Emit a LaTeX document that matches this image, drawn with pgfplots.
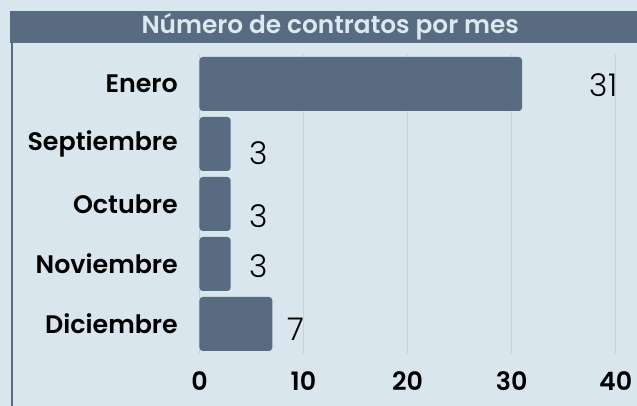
\documentclass[border=0pt]{standalone}
\usepackage{fontspec}
\setmainfont{Poppins}
\newfontfamily\semib{Poppins SemiBold}
\newfontfamily\lightf[Numbers=Monospaced]{Poppins Light}
\usepackage{pgfplots}
\pgfplotsset{compat=1.18}
\definecolor{bg}{HTML}{D9E6EE}
\definecolor{barc}{HTML}{596B80}
\definecolor{gridc}{HTML}{C5D2DA}
\definecolor{titlec}{HTML}{DDE9F0}
\begin{document}
\begin{tikzpicture}
\fill[bg] (0,0) rectangle (477.75pt,304.5pt);
\fill[barc] (7.5pt,272.25pt) rectangle (477.75pt,296.25pt);
\fill[barc] (7.9pt,0pt) rectangle (9.4pt,272.25pt);
\node[text=titlec, font=\semib\fontsize{18.6}{21}\selectfont] at (247.7pt,284.25pt) {Número de contratos por mes};
\begin{axis}[at={(149.6pt,39pt)}, anchor=south west, scale only axis,
  width=312.15pt, height=225pt,
  xmin=0, xmax=40, ymin=-0.5, ymax=4.5,
  axis line style={draw=none}, tick style={draw=none}, major tick length=0pt,
  xtick={0,10,20,30,40}, ytick={0,1,2,3,4},
  yticklabels={Diciembre,Noviembre,Octubre,Septiembre,Enero},
  xmajorgrids, grid style={gridc, line width=0.75pt},
  /pgf/number format/assume math mode=true,
  ticklabel style={font=\semib\fontsize{19}{22}\selectfont, text=black},
  xticklabel style={anchor=center, inner sep=0pt, yshift=-20.25pt},
  yticklabel style={anchor=east, inner sep=0pt, xshift=-16pt},
  clip=false]
\addplot[xbar, fill=barc, draw=none, bar width=40.5pt, rounded corners=2.5pt]
  coordinates {(31,4) (3,3) (3,2) (3,1) (7,0)};
\addplot[draw=none, mark=none, nodes near coords, point meta=explicit symbolic,
  nodes near coords style={anchor=center, inner sep=0pt, font=\lightf\fontsize{23.5}{26}\selectfont, text=black}]
  coordinates {(38.83,3.983)[31] (5.72,2.842)[3] (5.72,1.792)[3] (5.72,0.958)[3] (9.27,-0.083)[7]};
\end{axis}
\end{tikzpicture}
\end{document}
